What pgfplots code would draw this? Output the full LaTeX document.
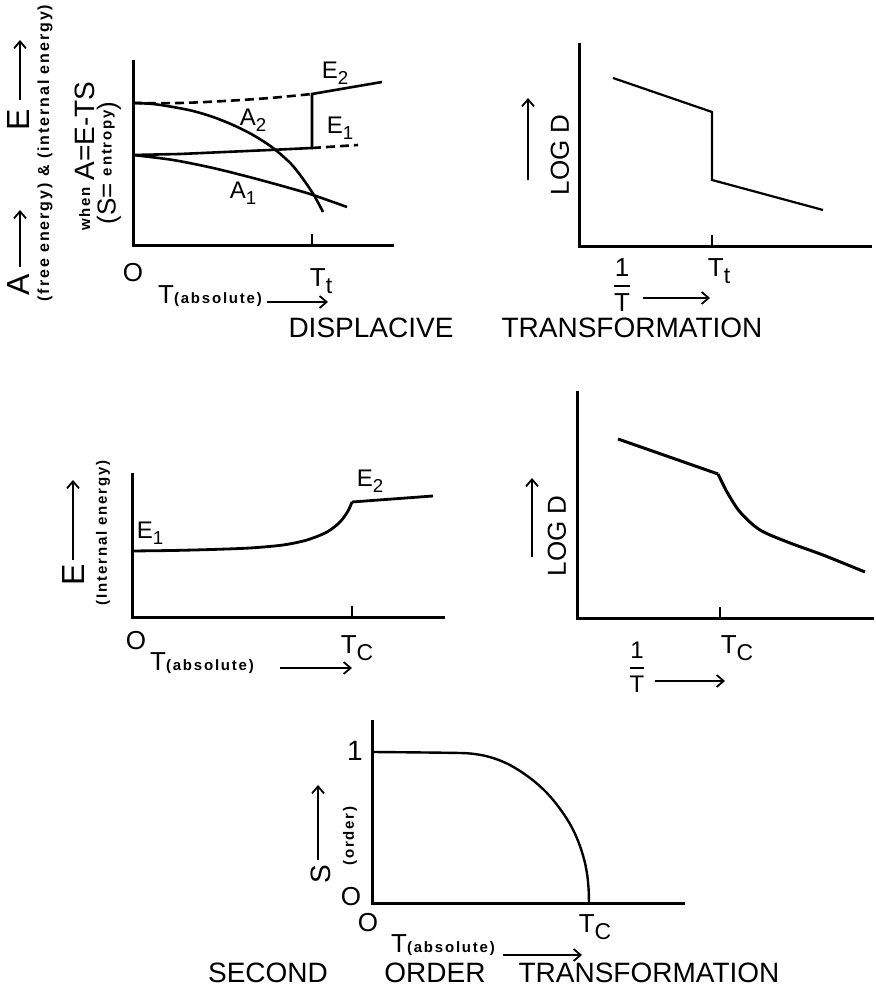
\documentclass[border=0pt]{standalone}
\usepackage{fontspec}
\setmainfont{Liberation Sans}
\newfontfamily\lb[LetterSpace=12]{Liberation Sans}
\usepackage{amsmath}
\usepackage{graphicx}
\usepackage{pgfplots}
\pgfplotsset{compat=1.18}
\usetikzlibrary{arrows.meta}

\newcommand\fs[1]{\fontsize{#1}{#1}\selectfont}
\newcommand\lsub[1]{\raisebox{-0.45ex}{\scalebox{0.78}{#1}}}
\newcommand\tsub[1]{\raisebox{-0.55ex}{\scalebox{0.88}{#1}}}
\newcommand\sm{\lb\bfseries\fs{7.5}}
\newcommand\inv{$\genfrac{}{}{1.1pt}{0}{\text{1}}{\text{T}}$}

\pgfplotsset{
  schem/.style={
    x=0.5pt, y=0.5pt, xmin=0, ymin=0,
    enlargelimits=false, clip=false, anchor=south west,
    axis lines=left, axis line style={-, line width=1.5pt, line cap=rect},
    ytick=\empty, xticklabels={}, tick align=inside,
    major tick length=6pt, every tick/.style={black, line width=1pt},
  },
  curve/.style={black, line width=1.3pt, no markers},
}
\tikzset{arr/.style={line width=0.9pt, -{Straight Barb[length=3.5pt, width=6pt]}}}

\begin{document}
\begin{tikzpicture}[x=0.5pt, y=0.5pt, font=\fs{12}]
\useasboundingbox (0,0) rectangle (876,995);

% displacive: free and internal energy
\begin{axis}[schem, at={(133,749)}, xmax=259, ymax=184, xtick={179}]
\addplot[curve, smooth, dash pattern=on 4.5pt off 2.5pt] coordinates {(0,143) (47,143) (92,145) (137,148) (179,152)};
\addplot[curve] coordinates {(0,91) (47,92) (92,94) (137,96) (179,98) (179,152) (249,164)};
\addplot[curve, dash pattern=on 4.5pt off 2.5pt] coordinates {(179,98) (225,101)};
\addplot[curve, smooth] coordinates {(0,143) (20,142) (40,139) (60,135) (80,129) (100,121) (120,111) (140,98) (160,80) (179,54) (190,34)};
\addplot[curve, smooth] coordinates {(0,91) (40,86) (80,78) (120,68) (160,57) (180,51) (214,39)};
\end{axis}
\node at (335,922) {E\lsub{2}};
\node at (253,875) {A\lsub{2}};
\node at (340,867) {E\lsub{1}};
\node at (243,802) {A\lsub{1}};
\node[font=\fs{13}] at (133,722) {O};
\node[font=\fs{13}] at (321,714) {T\tsub{t}};
\node at (210,699) {\fs{13}T{\sm(absolute)}};
\draw[arr] (267,693) -- (328,693);
\node[rotate=90, font=\fs{16}] at (18,710) {A};
\draw[arr] (20,728) -- (20,785);
\node[rotate=90, font=\fs{16}] at (18,875) {E};
\draw[arr] (20,895) -- (20,955);
\node[rotate=90, font=\lb\bfseries\fs{8}] at (45,842) {(free energy) \& (internal energy)};
\node[rotate=90] at (85,839) {\raisebox{0.35ex}{\sm when} {\fs{14}A=E-TS}};
\node[rotate=90] at (109,832) {\fs{13}(S= \raisebox{0.3ex}{\sm entropy})};
\node[font=\fs{14}] at (371,667) {DISPLACIVE};
\node[font=\fs{14}] at (632,667) {TRANSFORMATION};

% displacive: diffusion
\begin{axis}[schem, at={(579,748)}, xmax=291, ymax=202, xtick={133}]
\addplot[curve, line width=1.1pt] coordinates {(34,169) (133,135) (133,67) (244,37)};
\end{axis}
\node[rotate=90, font=\fs{13}] at (560,840) {LOG D};
\draw[arr] (528,815) -- (528,897);
\node[font=\fs{13}, inner sep=0pt] at (622,710) {\inv};
\draw[arr] (643,697) -- (710,697);
\node[font=\fs{13}] at (719,724) {T\tsub{t}};

% second order: internal energy
\begin{axis}[schem, at={(132,377)}, xmax=311, ymax=143, xtick={220}]
\addplot[curve, line width=1.4pt, smooth] coordinates {(0,67) (40,67.5) (80,68.5) (118,70) (151,73) (175,78) (195,86) (208,96) (216,107) (220,116)};
\addplot[curve, line width=1.4pt] coordinates {(220,116) (301,122)};
\end{axis}
\node at (150,462) {E\lsub{1}};
\node at (370,514) {E\lsub{2}};
\node[font=\fs{13}] at (136,354) {O};
\node[font=\fs{13}] at (357,347) {T\tsub{C}};
\node at (202,332) {\fs{13}T{\sm(absolute)}};
\draw[arr] (280,327) -- (352,327);
\node[rotate=90, font=\fs{16}] at (73,420) {E};
\draw[arr] (73,435) -- (73,515);
\node[rotate=90, font=\sm] at (103,462) {(Internal energy)};

% second order: diffusion
\begin{axis}[schem, at={(577,376)}, xmax=295, ymax=226, xtick={143}]
\addplot[curve, line width=1.5pt] coordinates {(41,180) (141,145)};
\addplot[curve, line width=1.5pt, smooth] coordinates {(141,145) (150,127) (163,107) (183,89) (213,76) (246,64) (288,47)};
\end{axis}
\node[rotate=90, font=\fs{13}] at (557,459) {LOG D};
\draw[arr] (532,438) -- (532,517);
\node[font=\fs{13}] at (737,347) {T\tsub{C}};
\node[font=\fs{12}, inner sep=0pt] at (637,328) {\inv};
\draw[arr] (655,314) -- (725,314);

% second order: order parameter
\begin{axis}[schem, at={(372,91)}, xmax=311, ymax=182, xtick=\empty]
\addplot[curve, line width=1.2pt, smooth] coordinates {(0,152) (44,151.6) (88,151) (100,150.3) (112,148.4) (124,145) (136,140) (148,133) (160,124.5) (172,114) (182,103) (191,91) (198,80) (204,68) (209,55) (213,41) (215.5,27) (216.7,13) (217,0)};
\end{axis}
\node[font=\fs{14}] at (355,244) {1};
\node[font=\fs{13}] at (351,98) {O};
\node[font=\fs{13}] at (368,72) {O};
\node[font=\fs{13}] at (595,68) {T\tsub{C}};
\node at (443,50) {\fs{13}T{\sm(absolute)}};
\draw[arr] (503,40) -- (582,40);
\node[rotate=90, font=\fs{14}] at (321,121) {S};
\draw[arr] (318,135) -- (318,210);
\node[rotate=90, font=\sm] at (350,159) {(order)};
\node[font=\fs{14}] at (268,22) {SECOND};
\node[font=\fs{14}] at (435,22) {ORDER};
\node[font=\fs{14}] at (649,22) {TRANSFORMATION};
\end{tikzpicture}
\end{document}
